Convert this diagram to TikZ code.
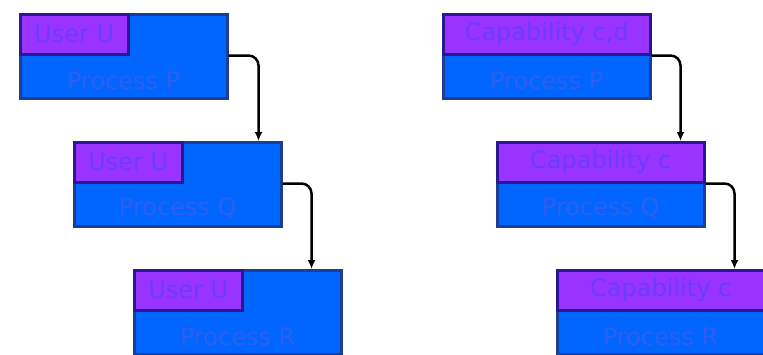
\documentclass[tikz,border=0pt]{standalone}
\usepackage{fontspec}
\setmainfont{DejaVu Sans}
\usetikzlibrary{calc,arrows.meta}

\definecolor{procblue}{HTML}{0066FF}
\definecolor{procedge}{HTML}{1C3F94}
\definecolor{headpurple}{HTML}{9933FF}
\definecolor{headedge}{HTML}{2A1890}
\definecolor{proctext}{HTML}{2F5FF0}
\definecolor{headtext}{HTML}{6A3CFF}

\tikzset{
  procbox/.style={draw=procedge, fill=procblue, line width=2.5pt, anchor=north west,
    minimum width=207pt, minimum height=84pt, inner sep=0pt},
  headbox/.style={draw=headedge, fill=headpurple, line width=2.5pt, anchor=north west,
    minimum height=40pt, inner sep=0pt, text=headtext, font=\fontsize{24}{26}\selectfont},
  proclabel/.style={text=proctext, font=\fontsize{24}{26}\selectfont},
  conn/.style={-{Latex[length=9pt,width=8pt]}, line width=2.5pt, rounded corners=10pt}
}

\begin{document}
\begin{tikzpicture}[x=1pt,y=-1pt]
  \useasboundingbox (0,0) rectangle (763,354);

  % users
  \node[procbox] (up) at (19,13) {};
  \node[headbox, minimum width=108pt] (uph) at (19,13) {User U};
  \node[proclabel] (upl) at ($(up.south)+(0,-19)$) {Process P};

  \node[procbox] (uq) at (73,141) {};
  \node[headbox, minimum width=108pt] (uqh) at (73,141) {User U};
  \node[proclabel] (uql) at ($(uq.south)+(0,-19)$) {Process Q};

  \node[procbox] (ur) at (133,269) {};
  \node[headbox, minimum width=108pt] (urh) at (133,269) {User U};
  \node[proclabel] (url) at ($(ur.south)+(0,-19)$) {Process R};

  % capabilities
  \node[procbox] (cp) at (442,13) {};
  \node[headbox, minimum width=207pt] (cph) at (442,13) {Capability c,d};
  \node[proclabel] (cpl) at ($(cp.south)+(0,-19)$) {Process P};

  \node[procbox] (cq) at (496,141) {};
  \node[headbox, minimum width=207pt] (cqh) at (496,141) {Capability c};
  \node[proclabel] (cql) at ($(cq.south)+(0,-19)$) {Process Q};

  \node[procbox] (cr) at (556,269) {};
  \node[headbox, minimum width=207pt] (crh) at (556,269) {Capability c};
  \node[proclabel] (crl) at ($(cr.south)+(0,-19)$) {Process R};

  % arrows
  \coordinate (uqin) at ($(uq.north east)+(-24,0)$);
  \coordinate (urin) at ($(ur.north east)+(-31,0)$);
  \coordinate (cqin) at ($(cq.north east)+(-25,0)$);
  \coordinate (crin) at ($(cr.north east)+(-31,0)$);
  \draw[conn] (up.east |- uph.south) -| (uqin);
  \draw[conn] (uq.east |- uqh.south) -| (urin);
  \draw[conn] (cp.east |- cph.south) -| (cqin);
  \draw[conn] (cq.east |- cqh.south) -| (crin);
\end{tikzpicture}
\end{document}
